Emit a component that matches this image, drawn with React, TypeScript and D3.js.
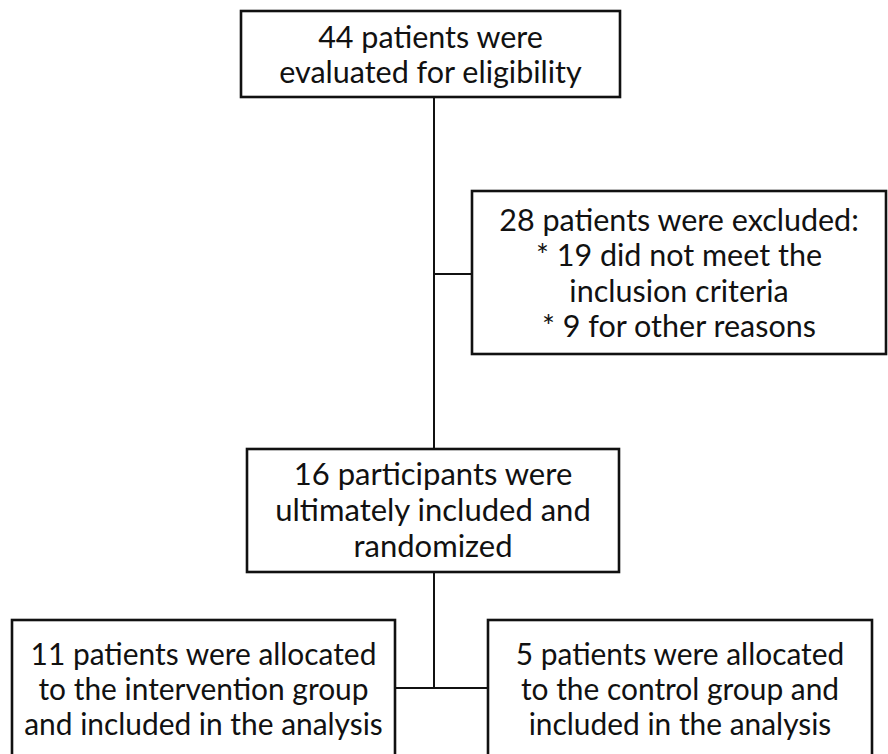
import { useEffect, useRef } from "react";
import * as d3 from "d3";

const WIDTH = 888;
const HEIGHT = 754;

// box texts, one array per box
const screenedLines = ["44 patients were", "evaluated for eligibility"];
const excludedLines = [
  "28 patients were excluded:",
  "* 19 did not meet the",
  "inclusion criteria",
  "* 9 for other reasons",
];
const includedLines = ["16 participants were", "ultimately included and", "randomized"];
const interventionLines = [
  "11 patients were allocated",
  "to the intervention group",
  "and included in the analysis",
];
const controlLines = [
  "5 patients were allocated",
  "to the control group and",
  "included in the analysis",
];

// layout (pixels)
const BOXES = [
  { key: "screened", lines: screenedLines, x0: 241, x1: 620, y0: 11, y1: 97, first: 36, step: 35, size: 30.5, squeeze: 1 },
  { key: "excluded", lines: excludedLines, x0: 472, x1: 886, y0: 191, y1: 354, first: 219, step: 35.3, size: 30.5, squeeze: 1 },
  { key: "included", lines: includedLines, x0: 247, x1: 619, y0: 449, y1: 572, first: 473, step: 36, size: 31, squeeze: 1 },
  { key: "intervention", lines: interventionLines, x0: 12, x1: 395, y0: 620, y1: 800, first: 653, step: 35, size: 30.5, squeeze: 0.98 },
  { key: "control", lines: controlLines, x0: 488, x1: 872, y0: 620, y1: 800, first: 653, step: 35, size: 30.5, squeeze: 0.98 },
];

const SPINE_X = 434;
const EXCL_Y = 274;
const SPLIT_Y = 688;

export default function App() {
  const svgRef = useRef<SVGSVGElement>(null);

  useEffect(() => {
    const svg = d3.select(svgRef.current);
    svg.selectAll("*").remove();

    svg.append("rect").attr("width", WIDTH).attr("height", HEIGHT).attr("fill", "#fff");

    const byKey = new Map(BOXES.map((b) => [b.key, b]));
    const top = byKey.get("screened")!;
    const excl = byKey.get("excluded")!;
    const mid = byKey.get("included")!;
    const left = byKey.get("intervention")!;
    const right = byKey.get("control")!;

    // connectors
    const path = d3.path();
    path.moveTo(SPINE_X, top.y1);
    path.lineTo(SPINE_X, mid.y0);
    path.moveTo(SPINE_X, EXCL_Y);
    path.lineTo(excl.x0, EXCL_Y);
    path.moveTo(SPINE_X, mid.y1);
    path.lineTo(SPINE_X, SPLIT_Y);
    path.moveTo(left.x1, SPLIT_Y);
    path.lineTo(right.x0, SPLIT_Y);

    svg
      .append("path")
      .attr("d", path.toString())
      .attr("fill", "none")
      .attr("stroke", "#111")
      .attr("stroke-width", 2);

    const g = svg
      .selectAll("g.box")
      .data(BOXES)
      .join("g")
      .attr("class", "box");

    g.append("rect")
      .attr("x", (d) => d.x0)
      .attr("y", (d) => d.y0)
      .attr("width", (d) => d.x1 - d.x0)
      .attr("height", (d) => d.y1 - d.y0)
      .attr("fill", "#fff")
      .attr("stroke", "#111")
      .attr("stroke-width", 2.6);

    g.each(function (d) {
      const cx = (d.x0 + d.x1) / 2;
      d3.select(this)
        .selectAll("text")
        .data(d.lines)
        .join("text")
        .attr("transform", (_, i) => `translate(${cx},${d.first + i * d.step}) scale(${d.squeeze},1)`)
        .attr("text-anchor", "middle")
        .attr("dominant-baseline", "central")
        .attr("font-family", "Lato, 'Open Sans', sans-serif")
        .attr("font-size", d.size)
        .attr("fill", "#111")
        .text((t) => t);
    });
  }, []);

  return (
    <>
      <style>{"body{margin:0}"}</style>
      <svg ref={svgRef} width={WIDTH} height={HEIGHT} style={{ display: "block" }} />
    </>
  );
}
